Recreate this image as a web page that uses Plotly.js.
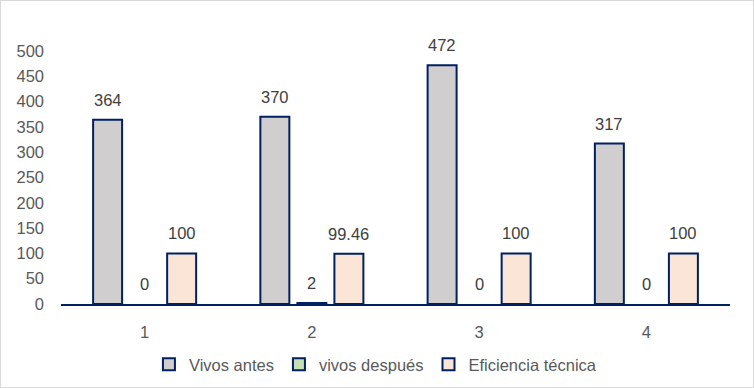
<!DOCTYPE html>
<html><head><meta charset="utf-8">
<script src="https://cdn.plot.ly/plotly-3.0.1.min.js"></script>
<style>html,body{margin:0;padding:0;background:#fff}#c{width:752px;height:386px;border:1px solid #d9d9d9}</style>
</head><body><div id="c"></div>
<script>
const categories = ['1','2','3','4'];
const vivosAntes = [364, 370, 472, 317];
const vivosDespues = [0, 2, 0, 0];
const eficiencia = [100, 99.46, 100, 100];
const seriesNames = ['Vivos antes', 'vivos después', 'Eficiencia técnica'];
const seriesColors = ['#d0cece', '#c5e0b4', '#fbe5d6'];
const seriesData = [vivosAntes, vivosDespues, eficiencia];

const bargap = 0.336;
const font = 'Liberation Sans, Arial, sans-serif';
// zero-height bars are not drawn in the reference (no outline), so pass them as gaps
const traces = seriesData.map((d, j) => ({
  type: 'bar', x: categories, y: d.map(v => v === 0 ? null : v), name: seriesNames[j],
  marker: {color: seriesColors[j], line: {color: '#002060', width: 2}},
  hoverinfo: 'none'
}));
const slot = (1 - bargap) / 3;
const annotations = [];
seriesData.forEach((d, j) => d.forEach((v, i) => {
  annotations.push({x: i + (j - 1) * slot, y: v, xref: 'x', yref: 'y', text: String(v),
    showarrow: false, yanchor: 'bottom', yshift: 9,
    font: {family: font, size: 16.5, color: '#404040'}});
}));
const layout = {
  width: 752, height: 386,
  margin: {l: 60, r: 23, t: 50, b: 83, autoexpand: false},
  paper_bgcolor: '#fff', plot_bgcolor: '#fff',
  font: {family: font, size: 16.5, color: '#595959'},
  barmode: 'group', bargap: bargap, bargroupgap: 0.217,
  xaxis: {type: 'category', showgrid: false, zeroline: false, showline: true,
    linecolor: '#002060', linewidth: 2, ticks: '', ticklabelstandoff: 12,
    tickfont: {family: font, size: 16.5, color: '#595959'}},
  yaxis: {range: [0, 500], dtick: 50, showgrid: false, zeroline: false, showline: false,
    ticks: '', ticklabelstandoff: 16, tickfont: {family: font, size: 16.5, color: '#595959'}},
  legend: {orientation: 'h', x: 0.47, xanchor: 'center', y: -0.17, yanchor: 'top',
    font: {family: font, size: 16.5, color: '#595959'}, itemwidth: 30, tracegroupgap: 0},
  annotations: annotations,
  showlegend: true
};
Plotly.newPlot('c', traces, layout, {displayModeBar: false, staticPlot: true});
</script></body></html>
